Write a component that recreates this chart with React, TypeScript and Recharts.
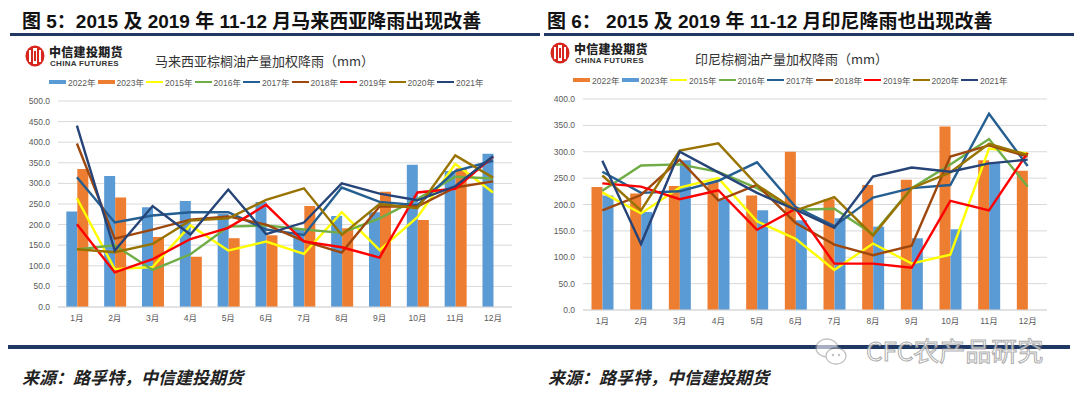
import React from "react";
import {
  ComposedChart,
  Bar,
  Line,
  XAxis,
  YAxis,
  CartesianGrid,
  Legend,
} from "recharts";

const months = ["1月", "2月", "3月", "4月", "5月", "6月", "7月", "8月", "9月", "10月", "11月", "12月"];

const lineNames = ["2015年", "2016年", "2017年", "2018年", "2019年", "2020年", "2021年"];
const lineColors = ["#FFFF00", "#70AD47", "#255E91", "#9E480E", "#FF0000", "#997300", "#264478"];

// 图5 马来西亚棕榈油产量加权降雨（mm）
const my2022 = [232, 318, 242, 257, 226, 255, 190, 221, 230, 345, 330, 372];
const my2023 = [335, 266, 170, 122, 167, 174, 245, 191, 280, 211, 337, null];
const my2015 = [264, 92, 97, 198, 137, 159, 129, 230, 138, 218, 347, 278];
const my2016 = [140, 150, 90, 128, 195, 198, 188, 180, 215, 262, 316, 312];
const my2017 = [315, 205, 222, 230, 230, 188, 175, 290, 255, 247, 330, 355];
const my2018 = [397, 166, 188, 212, 220, 200, 160, 132, 244, 244, 290, 305];
const my2019 = [201, 84, 116, 165, 192, 248, 159, 145, 120, 278, 287, 365];
const my2020 = [140, 133, 153, 210, 215, 260, 288, 175, 250, 240, 368, 314];
const my2021 = [440, 137, 245, 176, 285, 177, 205, 300, 275, 259, 293, 366];

// 图6 印尼棕榈油产量加权降雨（mm）
const id2022 = [233, 221, 235, 243, 217, 300, 210, 237, 247, 348, 284, 264];
const id2023 = [217, 186, 284, 210, 189, 170, 174, 158, 136, 153, 279, null];
const id2015 = [223, 183, 232, 250, 168, 135, 76, 126, 88, 105, 306, 297];
const id2016 = [226, 274, 276, 262, 231, 190, 192, 144, 231, 276, 324, 234];
const id2017 = [262, 222, 225, 245, 280, 195, 159, 213, 231, 237, 372, 273];
const id2018 = [189, 218, 285, 208, 237, 165, 124, 104, 122, 291, 312, 291];
const id2019 = [240, 234, 210, 227, 152, 192, 88, 88, 80, 207, 189, 298];
const id2020 = [255, 189, 302, 316, 237, 189, 214, 141, 231, 261, 315, 294];
const id2021 = [283, 125, 300, 261, 222, 190, 156, 253, 270, 262, 278, 285];

const myTicks = [0, 50, 100, 150, 200, 250, 300, 350, 400, 450, 500];
const idTicks = [0, 50, 100, 150, 200, 250, 300, 350, 400];

const BLUE = "#5B9BD5";
const ORANGE = "#ED7D31";
const NAVY = "#1F3864";
const TXT = "#595959";
const FONT = "'Liberation Sans', 'Noto Sans CJK SC', sans-serif";
const CJK = "'Noto Sans CJK SC', sans-serif";

function buildRows(b2022: (number | null)[], b2023: (number | null)[], lines: number[][]) {
  return months.map((m, i) => {
    const row: any = { month: m, y2022: b2022[i], y2023: b2023[i] };
    lines.forEach((s, k) => {
      row["l" + k] = s[i];
    });
    return row;
  });
}

const myRows = buildRows(my2022, my2023, [my2015, my2016, my2017, my2018, my2019, my2020, my2021]);
const idRows = buildRows(id2022, id2023, [id2015, id2016, id2017, id2018, id2019, id2020, id2021]);

type LegendItem = { name: string; color: string; bar: boolean };

function makeLegend(items: LegendItem[]) {
  return () => (
    <div style={{ display: "flex", fontSize: 8.5, color: TXT, fontFamily: FONT }}>
      {items.map((it) => (
        <div key={it.name} style={{ width: 48.5, display: "flex", alignItems: "center" }}>
          <span
            style={{
              display: "inline-block",
              width: 17,
              height: it.bar ? 4 : 2,
              background: it.color,
              marginRight: 2,
            }}
          />
          {it.name}
        </div>
      ))}
    </div>
  );
}

function Logo({ x, y }: { x: number; y: number }) {
  return (
    <div style={{ position: "absolute", left: x, top: y, width: 110, height: 24 }}>
      <svg width={20} height={22} style={{ position: "absolute", left: 0, top: 0 }}>
        <ellipse cx={10} cy={11} rx={9.5} ry={10.5} fill="#D7261E" />
        <rect x={4} y={5} width={2} height={12} fill="#fff" />
        <rect x={14} y={5} width={2} height={12} fill="#fff" />
        <rect x={8} y={3} width={4} height={16} fill="#fff" />
        <rect x={9} y={6} width={2} height={10} fill="#D7261E" />
      </svg>
      <div
        style={{
          position: "absolute",
          left: 24,
          top: 0,
          fontFamily: CJK,
          fontWeight: 900,
          fontSize: 12,
          lineHeight: "13px",
          color: "#222",
          letterSpacing: 0.3,
          whiteSpace: "nowrap",
        }}
      >
        中信建投期货
      </div>
      <div
        style={{
          position: "absolute",
          left: 25,
          top: 14,
          fontFamily: FONT,
          fontWeight: 700,
          fontSize: 8,
          lineHeight: "9px",
          color: "#333",
          whiteSpace: "nowrap",
          letterSpacing: 0.3,
        }}
      >
        CHINA FUTURES
      </div>
    </div>
  );
}

type PanelProps = {
  rows: any[];
  bars: LegendItem[];
  left: number;
  top: number;
  width: number;
  height: number;
  axisW: number;
  marginRight: number;
  xAxisH: number;
  yMax: number;
  ticks: number[];
  legendLeft: number;
};

function RainChart(p: PanelProps) {
  const legendItems: LegendItem[] = [
    ...p.bars,
    ...lineNames.map((n, k) => ({ name: n, color: lineColors[k], bar: false })),
  ];
  return (
    <div style={{ position: "absolute", left: p.left, top: p.top }}>
      <ComposedChart
        width={p.width}
        height={p.height}
        data={p.rows}
        margin={{ top: 31, right: p.marginRight, bottom: 0, left: 0 }}
        barCategoryGap="22%"
        barGap={0}
      >
        <CartesianGrid vertical={false} stroke="#D9D9D9" />
        <XAxis
          dataKey="month"
          interval={0}
          height={p.xAxisH}
          tickLine={false}
          axisLine={{ stroke: "#D9D9D9" }}
          tick={{ fontSize: 8.5, fill: TXT, fontFamily: FONT }}
        />
        <YAxis
          width={p.axisW}
          domain={[0, p.yMax]}
          ticks={p.ticks}
          interval={0}
          axisLine={false}
          tickLine={false}
          tickFormatter={(v: number) => v.toFixed(1)}
          tick={{ fontSize: 8.5, fill: TXT, fontFamily: FONT }}
        />
        <Legend
          content={makeLegend(legendItems)}
          wrapperStyle={{ top: 6, left: p.legendLeft, width: 460 }}
        />
        {p.bars.map((b) => (
          <Bar
            key={b.name}
            dataKey={"y" + b.name.slice(0, 4)}
            name={b.name}
            fill={b.color}
            isAnimationActive={false}
          />
        ))}
        {lineNames.map((n, k) => (
          <Line
            key={n}
            type="linear"
            dataKey={"l" + k}
            name={n}
            stroke={lineColors[k]}
            strokeWidth={2.4}
            dot={false}
            activeDot={false}
            isAnimationActive={false}
          />
        ))}
      </ComposedChart>
    </div>
  );
}

const figTitle: React.CSSProperties = {
  position: "absolute",
  top: 9,
  fontFamily: "'Liberation Sans', 'Noto Sans CJK SC', sans-serif",
  fontWeight: 700,
  fontSize: 19,
  lineHeight: "26px",
  color: "#111",
  whiteSpace: "nowrap",
};

const chartTitle: React.CSSProperties = {
  position: "absolute",
  fontFamily: CJK,
  fontSize: 13,
  lineHeight: "16px",
  color: "#333",
  whiteSpace: "nowrap",
};

const sourceStyle: React.CSSProperties = {
  position: "absolute",
  top: 366,
  fontFamily: CJK,
  fontWeight: 700,
  fontStyle: "italic",
  fontSize: 17,
  lineHeight: "22px",
  color: "#222",
  whiteSpace: "nowrap",
};

export default function App() {
  return (
    <div
      style={{
        position: "absolute",
        left: 0,
        top: 0,
        width: 1080,
        height: 398,
        background: "#fff",
        overflow: "hidden",
      }}
    >
      <div style={{ ...figTitle, left: 22 }}>图 5：2015 及 2019 年 11-12 月马来西亚降雨出现改善</div>
      <div style={{ ...figTitle, left: 547 }}>图 6： 2015 及 2019 年 11-12 月印尼降雨也出现改善</div>
      <div style={{ position: "absolute", left: 10, top: 33, width: 530, height: 3, background: NAVY }} />
      <div style={{ position: "absolute", left: 544, top: 33, width: 530, height: 3, background: NAVY }} />

      <Logo x={25} y={45} />
      <Logo x={550} y={42} />
      <div style={{ ...chartTitle, left: 155, top: 53 }}>马来西亚棕榈油产量加权降雨（mm）</div>
      <div style={{ ...chartTitle, left: 695, top: 51 }}>印尼棕榈油产量加权降雨（mm）</div>

      <RainChart
        rows={myRows}
        bars={[
          { name: "2022年", color: BLUE, bar: true },
          { name: "2023年", color: ORANGE, bar: true },
        ]}
        left={0}
        top={70}
        width={530}
        height={275}
        axisW={58}
        marginRight={18}
        xAxisH={26}
        yMax={500}
        ticks={myTicks}
        legendLeft={49}
      />
      <RainChart
        rows={idRows}
        bars={[
          { name: "2022年", color: ORANGE, bar: true },
          { name: "2023年", color: BLUE, bar: true },
        ]}
        left={540}
        top={68}
        width={520}
        height={282}
        axisW={43}
        marginRight={13}
        xAxisH={28}
        yMax={400}
        ticks={idTicks}
        legendLeft={33}
      />

      <div style={{ position: "absolute", left: 8, top: 345, width: 1062, height: 4, background: NAVY }} />

      <div style={{ ...sourceStyle, left: 22 }}>来源：路孚特，中信建投期货</div>
      <div style={{ ...sourceStyle, left: 548 }}>来源：路孚特，中信建投期货</div>

      <svg width={36} height={32} style={{ position: "absolute", left: 814, top: 336, opacity: 0.6 }}>
        <ellipse cx={13} cy={12} rx={11} ry={9} fill="#fff" stroke="#999" strokeWidth={1.3} />
        <ellipse cx={22} cy={20} rx={10} ry={8} fill="#fff" stroke="#999" strokeWidth={1.3} />
        <circle cx={19} cy={19} r={1.2} fill="#999" />
        <circle cx={25} cy={19} r={1.2} fill="#999" />
      </svg>
      <div
        style={{
          position: "absolute",
          left: 866,
          top: 334,
          fontFamily: CJK,
          fontSize: 26,
          lineHeight: "32px",
          color: "#fff",
          WebkitTextStroke: "1px #9a9a9a",
          opacity: 0.8,
          whiteSpace: "nowrap",
        }}
      >
        CFC农产品研究
      </div>
    </div>
  );
}
